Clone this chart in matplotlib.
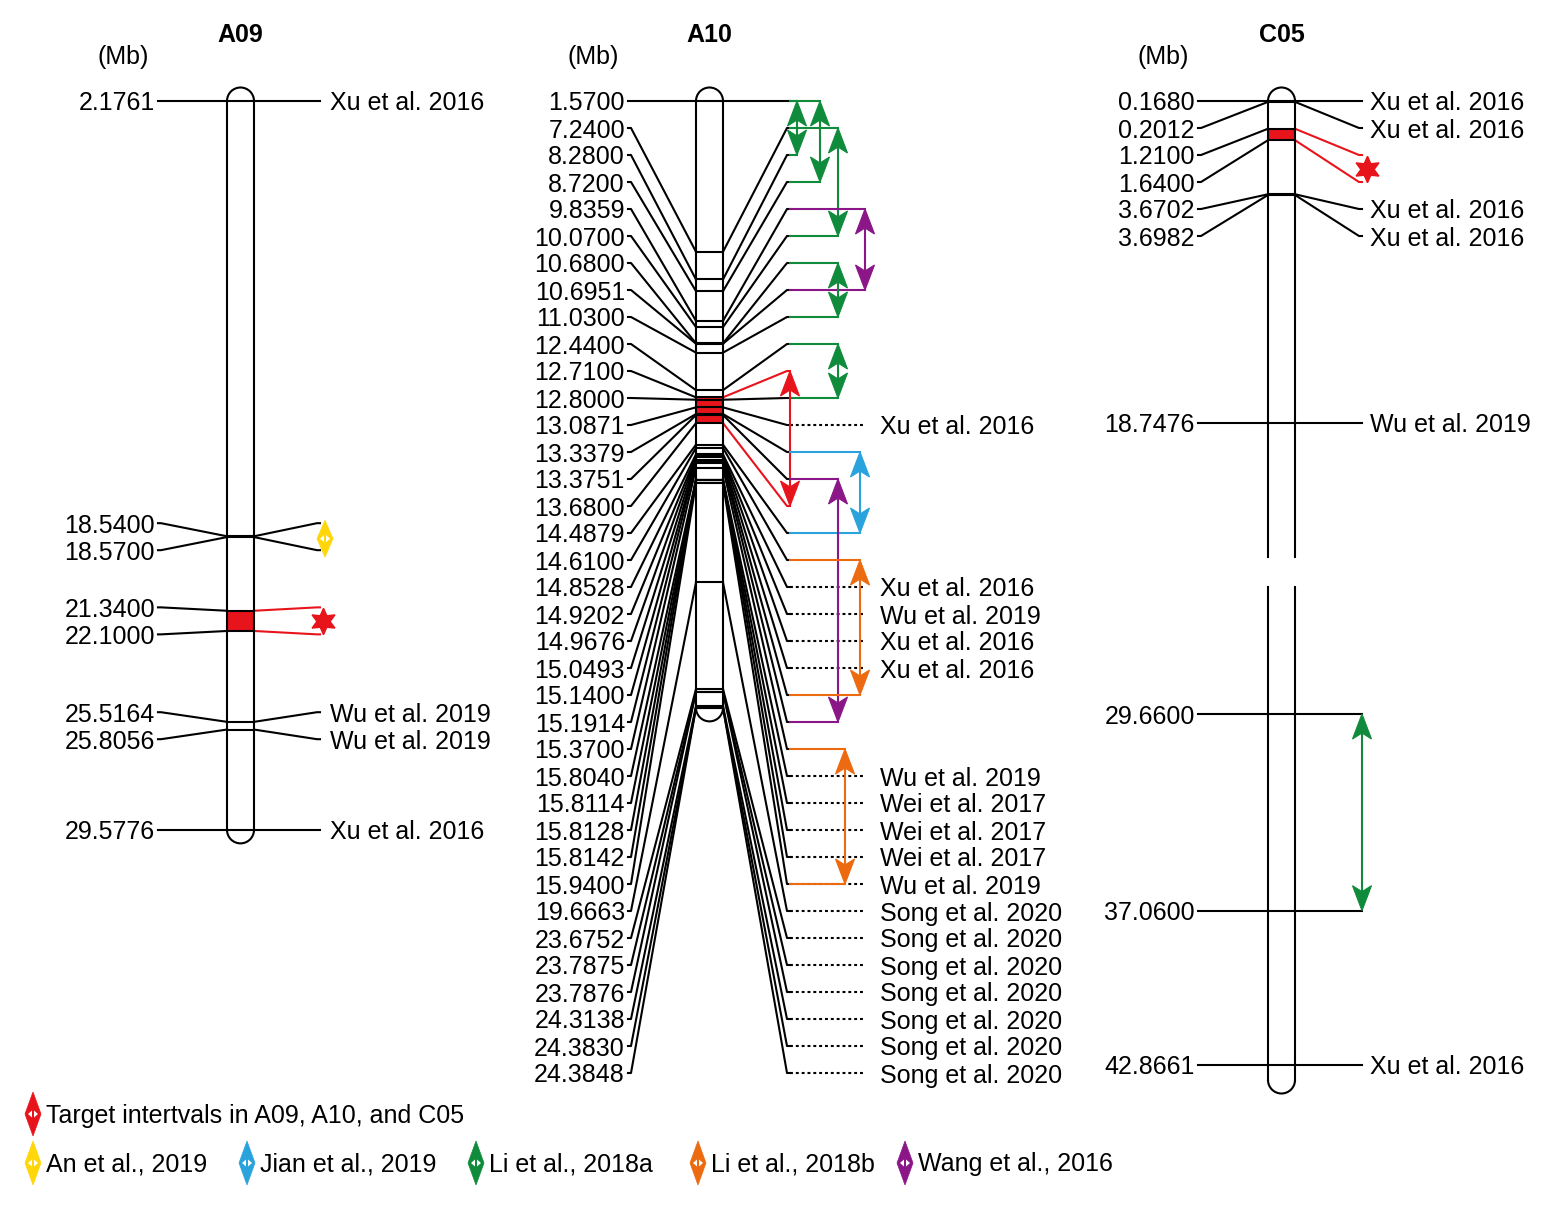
import numpy as np
import matplotlib
matplotlib.use("Agg")
import matplotlib.pyplot as plt
from matplotlib.patches import Polygon, Arc, Rectangle

plt.rcParams['font.family'] = ['Liberation Sans', 'DejaVu Sans']

# ---------------- data ----------------
A09_MB = [2.1761, 18.5400, 18.5700, 21.3400, 22.1000, 25.5164, 25.8056, 29.5776]
A09_REFS = ['Xu et al. 2016', '', '', '', '', 'Wu et al. 2019', 'Wu et al. 2019', 'Xu et al. 2016']
A09_TARGET = (21.34, 22.10)
A09_AN2019 = (18.54, 18.57)

A10_MB = [1.5700, 7.2400, 8.2800, 8.7200, 9.8359, 10.0700, 10.6800, 10.6951, 11.0300,
          12.4400, 12.7100, 12.8000, 13.0871, 13.3379, 13.3751, 13.6800, 14.4879,
          14.6100, 14.8528, 14.9202, 14.9676, 15.0493, 15.1400, 15.1914, 15.3700,
          15.8040, 15.8114, 15.8128, 15.8142, 15.9400, 19.6663, 23.6752, 23.7875,
          23.7876, 24.3138, 24.3830, 24.3848]
A10_REFS = ['', '', '', '', '', '', '', '', '', '', '', '',
            'Xu et al. 2016', '', '', '', '', '',
            'Xu et al. 2016', 'Wu et al. 2019', 'Xu et al. 2016', 'Xu et al. 2016',
            '', '', '',
            'Wu et al. 2019', 'Wei et al. 2017', 'Wei et al. 2017', 'Wei et al. 2017',
            'Wu et al. 2019',
            'Song et al. 2020', 'Song et al. 2020', 'Song et al. 2020', 'Song et al. 2020',
            'Song et al. 2020', 'Song et al. 2020', 'Song et al. 2020']
A10_IV_STUDY = ['Li et al., 2018a', 'Li et al., 2018a', 'Li et al., 2018a', 'Wang et al., 2016',
                'Li et al., 2018a', 'Li et al., 2018a', 'Target', 'Jian et al., 2019',
                'Wang et al., 2016', 'Li et al., 2018b', 'Li et al., 2018b']
A10_IV_START = [1.57, 1.57, 7.24, 9.8359, 10.68, 12.44, 12.71, 13.3379, 13.3751, 14.61, 15.37]
A10_IV_END = [8.28, 8.72, 10.07, 10.6951, 11.03, 12.80, 13.68, 14.4879, 15.1914, 15.14, 15.94]
A10_TARGET = (12.71, 13.68)

C05_MB = [0.1680, 0.2012, 1.2100, 1.6400, 3.6702, 3.6982, 18.7476, 29.6600, 37.0600, 42.8661]
C05_REFS = ['Xu et al. 2016', 'Xu et al. 2016', '', '', 'Xu et al. 2016', 'Xu et al. 2016',
            'Wu et al. 2019', '', '', 'Xu et al. 2016']
C05_TARGET = (1.21, 1.64)
C05_LI2018A = (29.66, 37.06)

LEGEND_LABELS = ['Target intertvals in A09, A10, and C05', 'An et al., 2019', 'Jian et al., 2019',
                 'Li et al., 2018a', 'Li et al., 2018b', 'Wang et al., 2016']
COLORS = {'Target': '#E8141B', 'An et al., 2019': '#FFD60A', 'Jian et al., 2019': '#2AA3DD',
          'Li et al., 2018a': '#0F8B3B', 'Li et al., 2018b': '#EC6A10', 'Wang et al., 2016': '#8A1687'}
LEGEND_KEYS = ['Target', 'An et al., 2019', 'Jian et al., 2019', 'Li et al., 2018a',
               'Li et al., 2018b', 'Wang et al., 2016']

# ---------------- layout / scales ----------------
PX_PER_MB = 26.6
Y_TOP = 101
GAP = 27
CW = 27
LW = 1.5
FS = 18

def lin_scale(first):
    return lambda mb: Y_TOP + PX_PER_MB * (np.asarray(mb) - first)

# C05 is drawn with a compressed middle part and an axis break
C05_ANCH_MB = [0.168, 3.6982, 18.7476, 29.66, 42.8661]
C05_ANCH_Y = [101, 195, 423, 714, 1065]
def c05_scale(mb):
    return np.interp(mb, C05_ANCH_MB, C05_ANCH_Y)

def spread(pos, gap, top):
    groups = [[i] for i in range(len(pos))]
    def place(g):
        m = np.mean([pos[i] for i in g])
        return max(m - (len(g) - 1) * gap / 2, top)
    changed = True
    while changed:
        changed = False
        for k in range(len(groups) - 1):
            s1, s2 = place(groups[k]), place(groups[k + 1])
            if s2 < s1 + len(groups[k]) * gap - 1e-6:
                groups[k] = groups[k] + groups[k + 1]
                del groups[k + 1]
                changed = True
                break
    slots = np.zeros(len(pos))
    for g in groups:
        s = place(g)
        for j, i in enumerate(g):
            slots[i] = s + j * gap
    return slots

fig = plt.figure(figsize=(15.59, 12.14), dpi=100)
ax = fig.add_axes([0, 0, 1, 1])
ax.set_xlim(0, 1559)
ax.set_ylim(1214, 0)
ax.axis('off')

def head(x, ytip, d, color):
    L, W, N = 25, 9.5, 19
    verts = [(x, ytip), (x - W, ytip - d * L), (x, ytip - d * N), (x + W, ytip - d * L)]
    ax.add_patch(Polygon(verts, closed=True, fc=color, ec=color, lw=0.8, zorder=6))

def darrow(x, y1, y2, color):
    ax.plot([x, x], [y1 + 12, y2 - 12], color=color, lw=LW, zorder=5)
    head(x, y1, -1, color)
    head(x, y2, +1, color)

def diamond(cx, cy, h, color, w=8):
    ax.add_patch(Polygon([(cx, cy - h / 2), (cx + w, cy), (cx, cy + h / 2), (cx - w, cy)],
                         closed=True, fc=color, ec=color, lw=0.5, zorder=6))
    ax.add_patch(Polygon([(cx - 1, cy - 3.5), (cx - 5, cy), (cx - 1, cy + 3.5)],
                         closed=True, fc='white', ec='none', zorder=7))
    ax.add_patch(Polygon([(cx + 1, cy - 3.5), (cx + 5, cy), (cx + 1, cy + 3.5)],
                         closed=True, fc='white', ec='none', zorder=7))

def star(x, y, color):
    ax.plot([x], [y], marker=(6, 1, 0), ms=19, color=color, mec=color, zorder=7)

def chromosome(cx, y_top, y_bot, breaks=None):
    r = CW / 2
    xl, xr = cx - r, cx + r
    segs = [(y_top, y_bot)] if breaks is None else [(y_top, breaks[0]), (breaks[1], y_bot)]
    for a, b in segs:
        ax.plot([xl, xl], [a, b], color='black', lw=LW, zorder=4)
        ax.plot([xr, xr], [a, b], color='black', lw=LW, zorder=4)
    ax.add_patch(Arc((cx, y_top), CW, CW, theta1=180, theta2=360, color='black', lw=LW, zorder=4))
    ax.add_patch(Arc((cx, y_bot), CW, CW, theta1=0, theta2=180, color='black', lw=LW, zorder=4))
    return xl, xr

def draw_chrom(name, cx, mbs, scale, refs, lab_right, right_end, ref_x, target,
               y_bot_extra=0, breaks=None, dotted_to=None):
    pos = scale(mbs)
    slots = spread(list(pos), GAP, Y_TOP)
    xl, xr = chromosome(cx, pos[0], pos[-1] + y_bot_extra, breaks)
    t0, t1 = scale(target[0]), scale(target[1])
    ax.add_patch(Rectangle((xl, t0), CW, t1 - t0, fc=COLORS['Target'], ec='none', zorder=2))
    ax.text(cx, 35, name, ha='center', va='center', fontsize=18, fontweight='bold')
    ax.text(lab_right - 32, 57, '(Mb)', ha='center', va='center', fontsize=FS)
    for mb, p, s, ref in zip(mbs, pos, slots, refs):
        ax.plot([xl, xr], [p, p], color='black', lw=LW, zorder=4)
        ax.plot([lab_right + 3, lab_right + 6, xl], [s, s, p], color='black', lw=LW, zorder=3)
        col = COLORS['Target'] if mb in target else 'black'
        ax.plot([xr, right_end - 3, right_end], [p, s, s], color=col, lw=LW, zorder=3)
        ax.text(lab_right, s, f"{mb:.4f}", ha='right', va='center_baseline', fontsize=FS)
        if ref:
            if dotted_to is not None:
                ax.plot([right_end, dotted_to], [s, s], color='black', lw=LW,
                        ls=(0, (1.4, 1.4)), zorder=3)
            ax.text(ref_x, s, ref, ha='left', va='center_baseline', fontsize=FS)
    return dict(zip(mbs, slots))

# A09
s09 = draw_chrom('A09', 240.5, A09_MB, lin_scale(A09_MB[0]), A09_REFS, 155, 320, 330, A09_TARGET)
y1, y2 = s09[A09_TARGET[0]], s09[A09_TARGET[1]]
star(323, (y1 + y2) / 2, COLORS['Target'])
y1, y2 = s09[A09_AN2019[0]], s09[A09_AN2019[1]]
diamond(325, (y1 + y2) / 2 + 2, (y2 - y1) + 10, COLORS['An et al., 2019'])

# A10
s10 = draw_chrom('A10', 709.5, A10_MB, lin_scale(A10_MB[0]), A10_REFS, 625, 790, 880, A10_TARGET,
                 dotted_to=865)
A10_IV_COL = [7, 30, 48, 75, 48, 48, 0, 70, 48, 70, 55]
for st, a, b, off in zip(A10_IV_STUDY, A10_IV_START, A10_IV_END, A10_IV_COL):
    c = COLORS[st]
    x = 790 + off
    ya, yb = s10[a], s10[b]
    if off > 0:
        ax.plot([790, x], [ya, ya], color=c, lw=LW, zorder=5)
        ax.plot([790, x], [yb, yb], color=c, lw=LW, zorder=5)
    darrow(x, ya, yb, c)

# C05
s05 = draw_chrom('C05', 1281.5, C05_MB, c05_scale, C05_REFS, 1195, 1362, 1370, C05_TARGET,
                 y_bot_extra=15, breaks=(557, 587))
y1, y2 = s05[C05_TARGET[0]], s05[C05_TARGET[1]]
star(1367, (y1 + y2) / 2, COLORS['Target'])
darrow(1362, s05[C05_LI2018A[0]], s05[C05_LI2018A[1]], COLORS['Li et al., 2018a'])

# legend
LEG_X = [33, 33, 247, 476, 698, 905]
LEG_Y = [1114, 1163, 1163, 1163, 1163, 1163]
for key, lab, lx, ly in zip(LEGEND_KEYS, LEGEND_LABELS, LEG_X, LEG_Y):
    diamond(lx, ly, 44, COLORS[key], w=8)
    ax.text(lx + 13, ly - 1, lab, ha='left', va='center_baseline', fontsize=FS)

fig.savefig('out.png', dpi=100)
